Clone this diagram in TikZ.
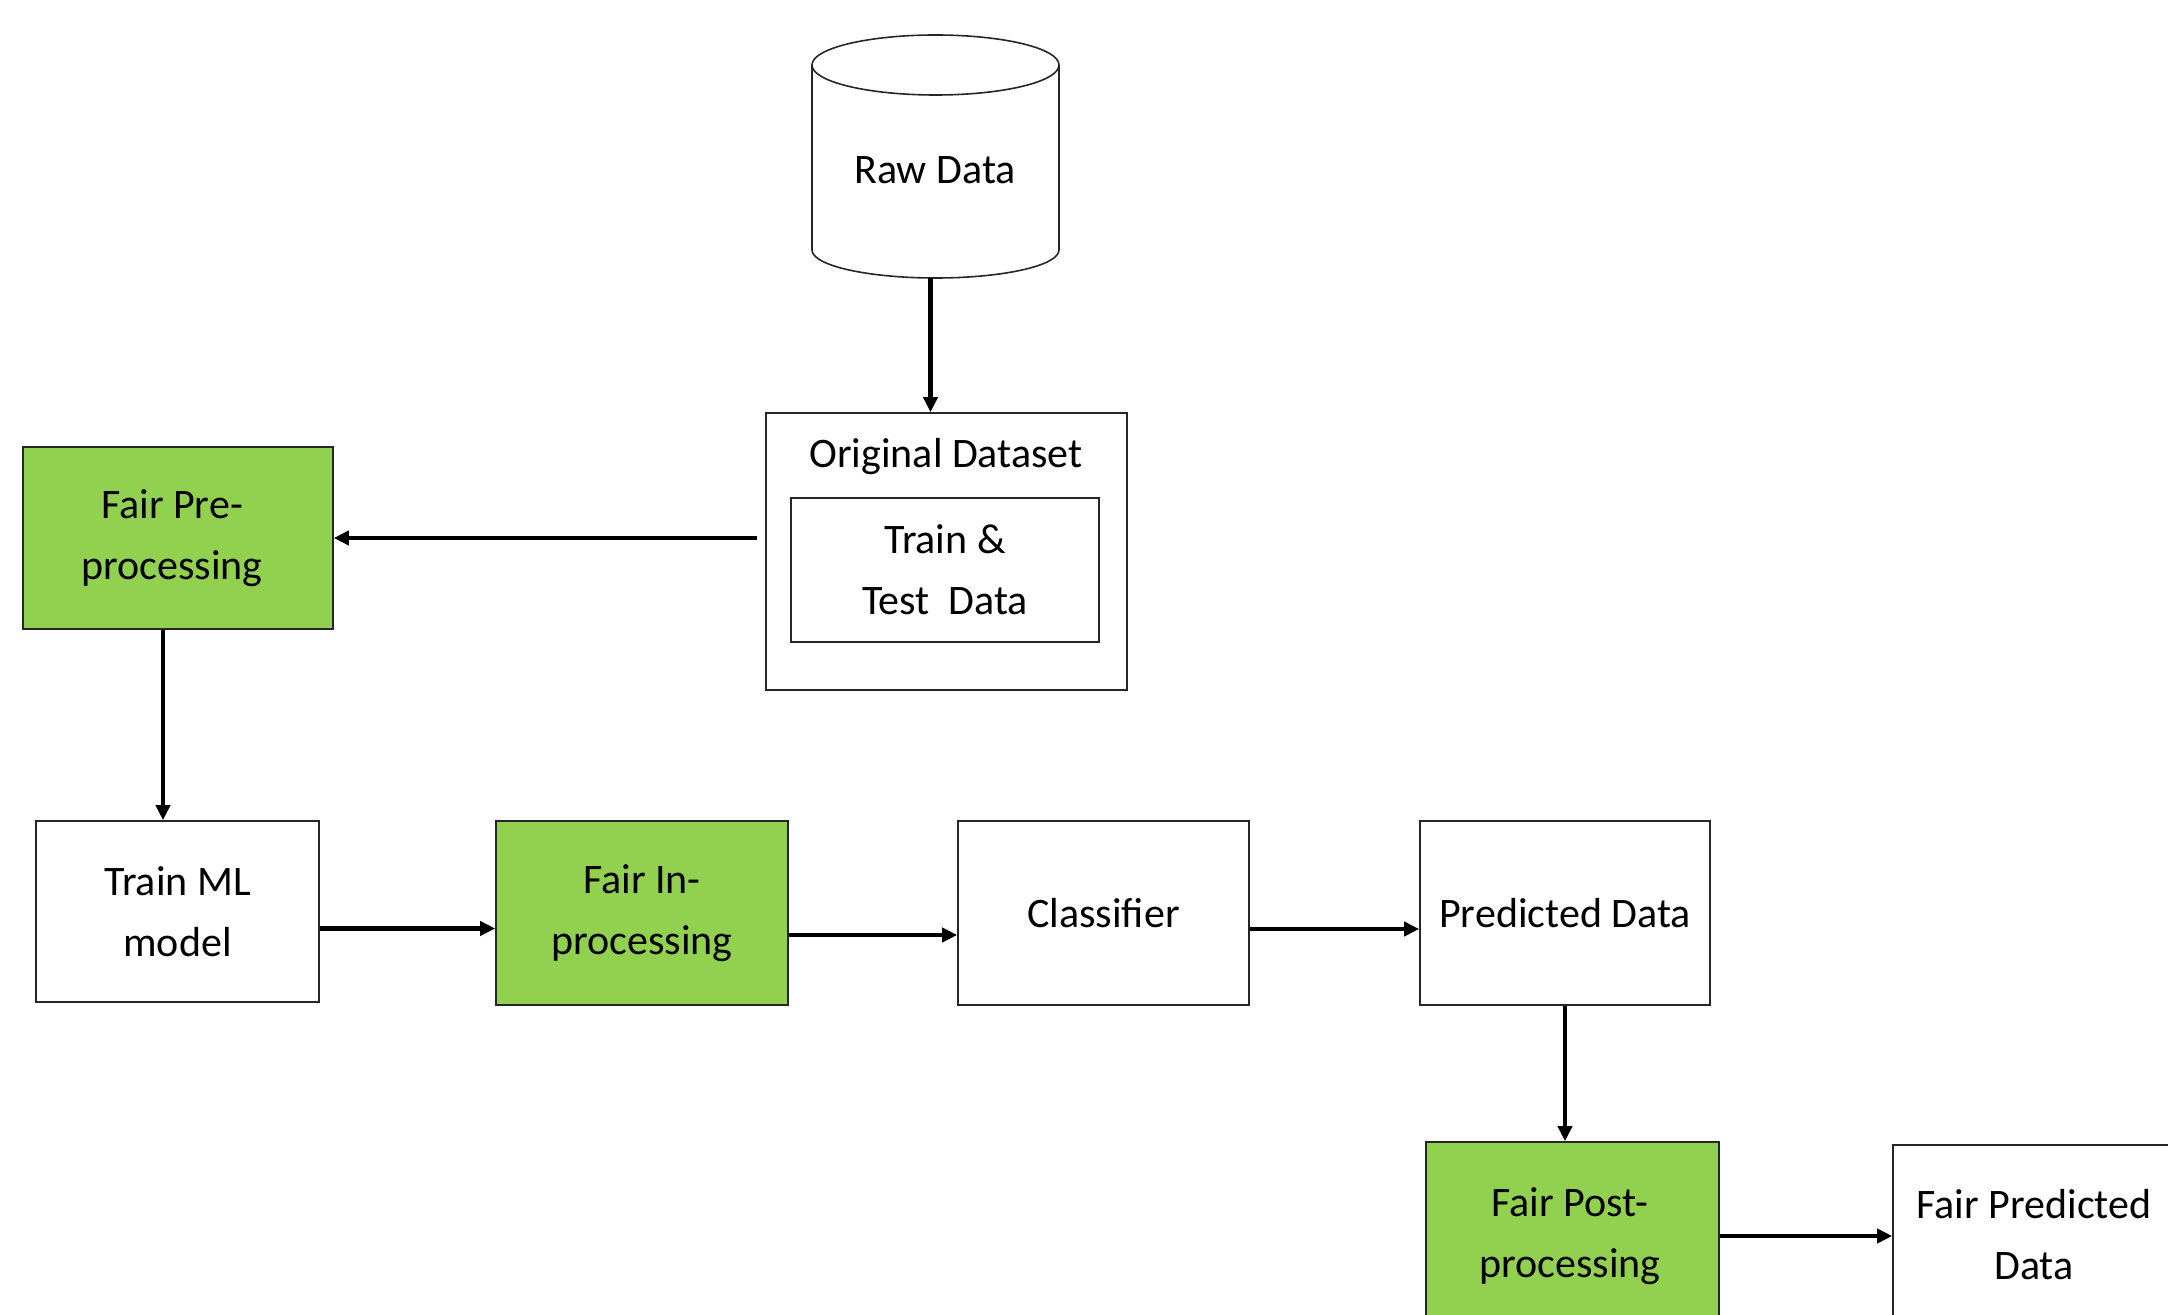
\documentclass[tikz,border=0pt]{standalone}
\usepackage{fontspec}
\setmainfont{Carlito}
\usetikzlibrary{arrows.meta,calc}
\definecolor{fairgreen}{HTML}{92D050}
\begin{document}
\begin{tikzpicture}[x=0.5pt,y=-0.5pt,
  box/.style={draw=black!85, line width=0.8pt, rectangle, inner sep=0pt, align=center,
              font=\fontsize{21pt}{30.5pt}\selectfont},
  fairbox/.style={box, fill=fairgreen},
  txt/.style={inner sep=0pt, align=center, font=\fontsize{21pt}{30.5pt}\selectfont},
  cyl/.style={draw=black!85, line width=0.8pt},
  arr/.style={line width=2.1pt, -{Triangle[length=7.5pt,width=7pt]}}]
\useasboundingbox (0,0) rectangle (2168,1315);
\clip (0,0) rectangle (2168,1315);

% Raw data cylinder
\node[minimum width=123.5pt, minimum height=121.5pt, inner sep=0pt] (raw) at (935.5,156.5) {};
\fill[white] (812,65) -- (812,250) arc[start angle=180, end angle=0, x radius=123.5, y radius=28] -- (1059,65) -- cycle;
\draw[cyl] (812,65) -- (812,250) arc[start angle=180, end angle=0, x radius=123.5, y radius=28] -- (1059,65);
\draw[cyl] (935.5,65) ellipse [x radius=123.5, y radius=30];
\node[txt] (rawtxt) at (935,170) {Raw Data};

% Original dataset
\node[box, minimum width=180.5pt, minimum height=138.5pt] (orig) at (946.5,551.5) {};
\node[txt] (origtxt) at (946,457) {Original Dataset};
\node[box, minimum width=154pt, minimum height=72pt] (tt) at (945,570) {Train \&\\Test\ \ Data};

% Left branch
\node[fairbox, minimum width=155pt, minimum height=91pt] (pre) at (178,538) {};
\node[txt] (pretxt) at (172,538) {Fair Pre-\\processing};
\node[box, minimum width=141.5pt, minimum height=90.5pt] (train) at (177.5,911.5) {Train ML\\model};
\node[fairbox, minimum width=146pt, minimum height=92pt] (inproc) at (642,913) {Fair In-\\processing};
\node[box, minimum width=145.5pt, minimum height=92pt] (clf) at (1103.5,913) {Classifier};
\node[box, minimum width=145pt, minimum height=92pt] (pred) at (1565,913) {Predicted Data};

% Bottom right (cut off)
\node[fairbox, minimum width=146.5pt, minimum height=130pt] (post) at (1572.5,1272) {};
\node[txt] (posttxt) at (1570,1236) {Fair Post-\\processing};
\node[box, minimum width=160pt, minimum height=130pt] (fpred) at (2053,1275) {};
\node[txt] (fpredtxt) at (2034,1235) {Fair Predicted\\Data};

% helper coordinates
\coordinate (rawout) at ($(raw.south)+(-5,0)$);
\coordinate (preout) at ($(pre.south)+(-15,0)$);
\coordinate (origout) at ($(orig.west |- pre.east)+(-8,0)$);
\coordinate (trainout) at ($(train.east)+(0,17)$);
\coordinate (inout) at ($(inproc.east)+(0,22)$);
\coordinate (clfout) at ($(clf.east)+(0,16)$);

% Connectors
\draw[arr] (rawout) -- (rawout |- orig.north);
\draw[arr] (origout) -- (pre.east);
\draw[arr] (preout) -- (preout |- train.north);
\draw[arr] (trainout) -- (trainout -| inproc.west);
\draw[arr] (inout) -- (inout -| clf.west);
\draw[arr] (clfout) -- (clfout -| pred.west);
\draw[arr] (pred.south) -- (pred.south |- post.north);
\draw[arr] (post.east |- posttxt.center) -- (fpred.west |- posttxt.center);
\end{tikzpicture}
\end{document}
